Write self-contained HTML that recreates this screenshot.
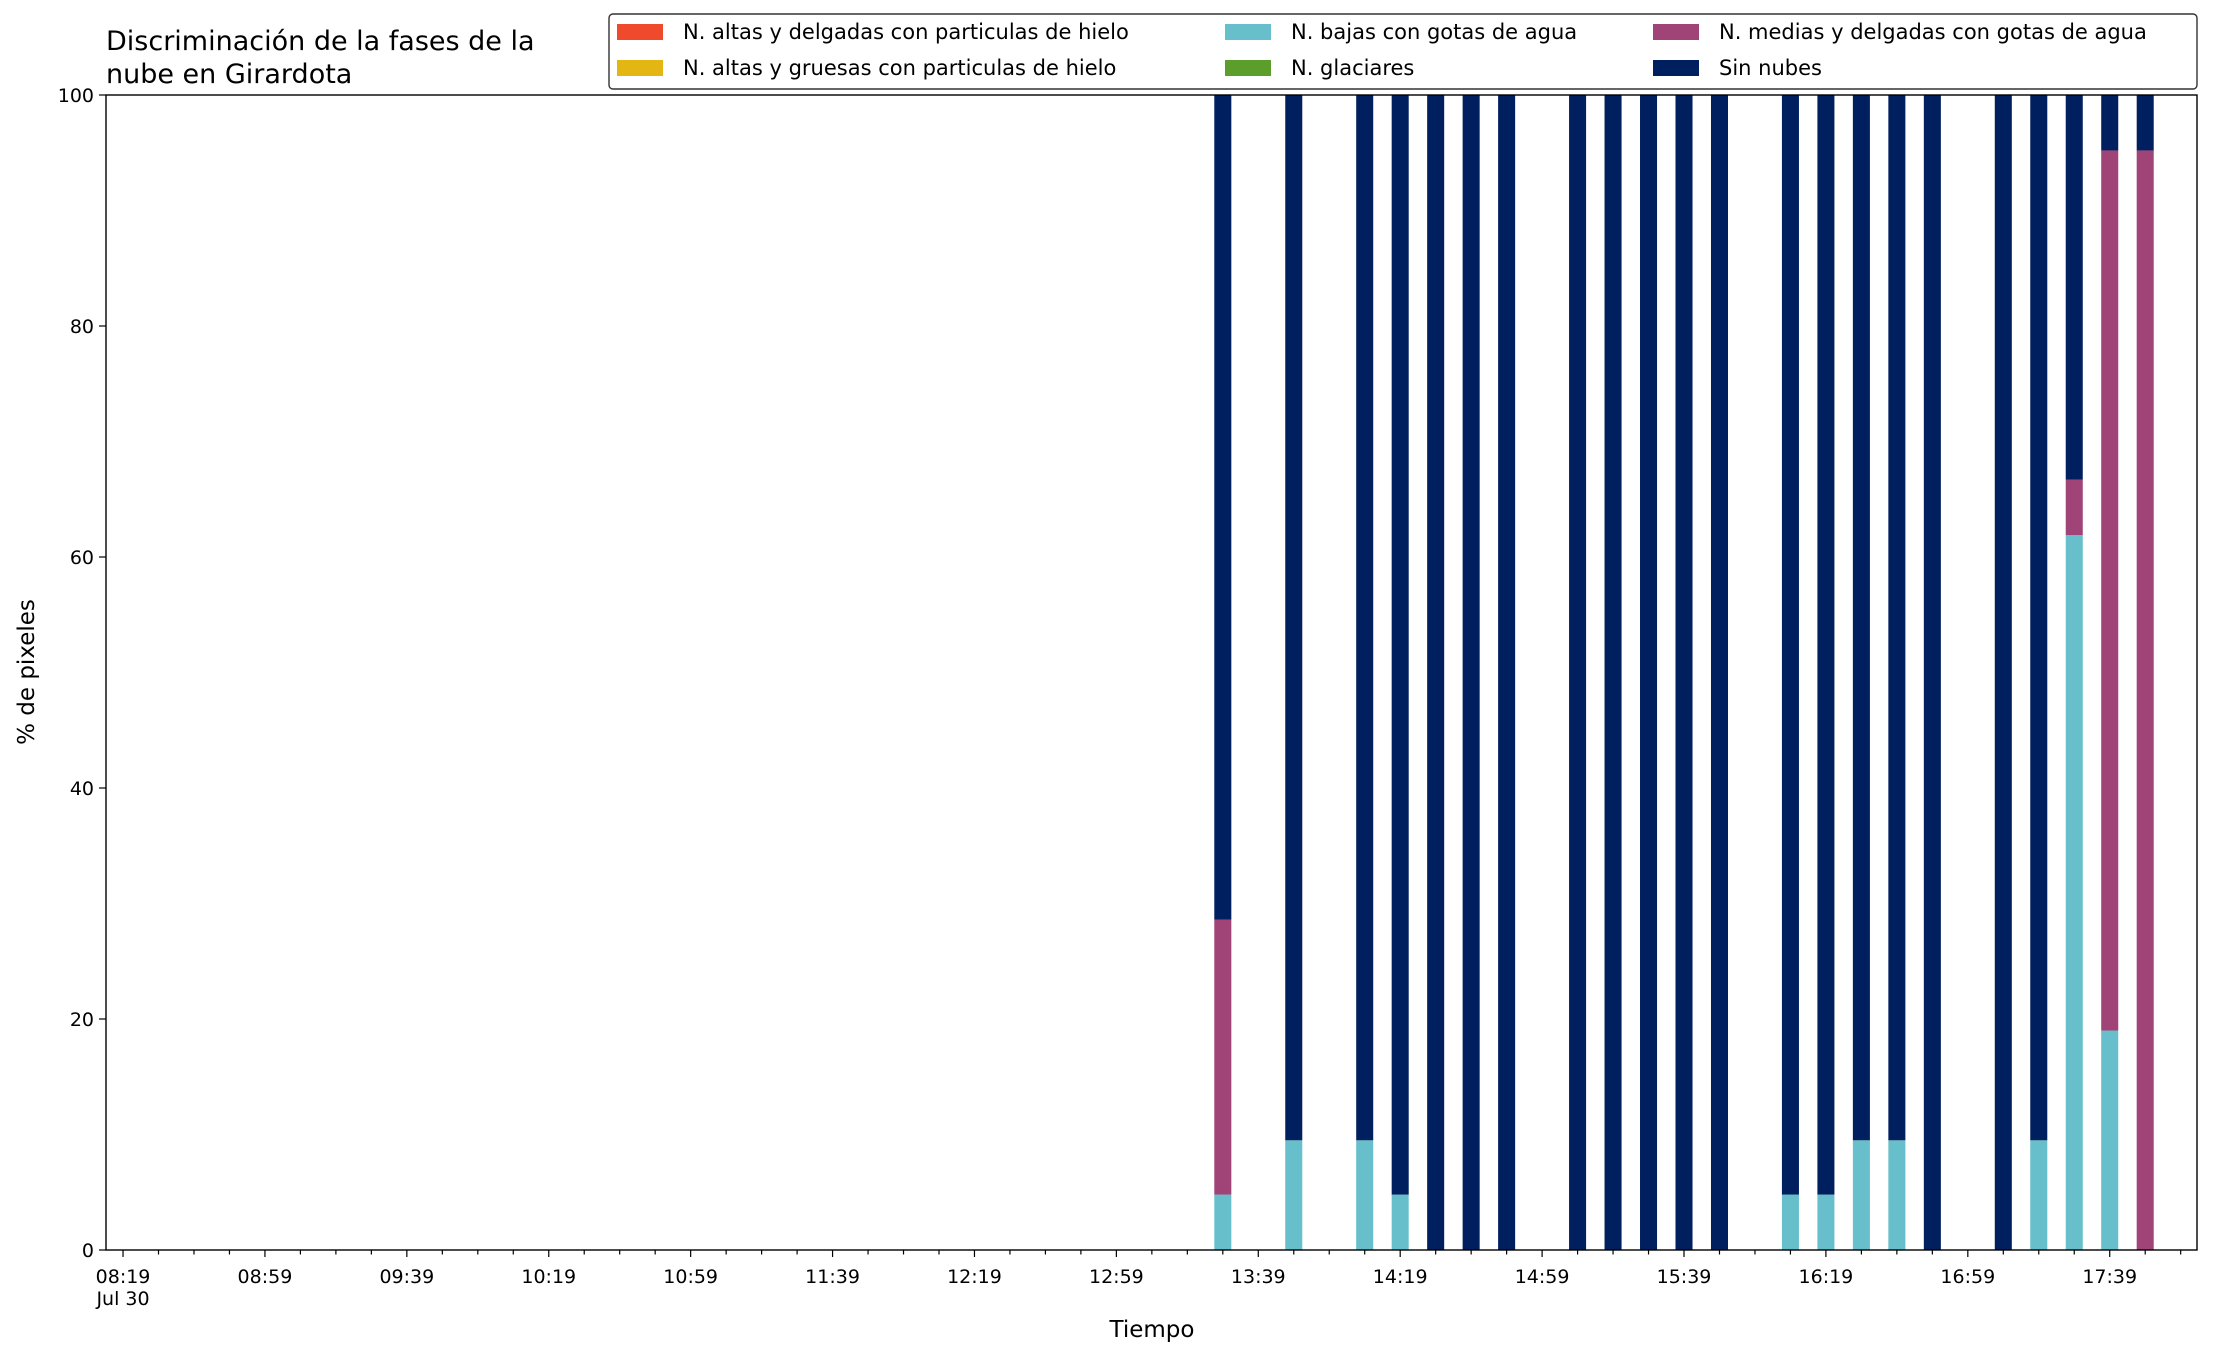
<!DOCTYPE html>
<html><head><meta charset="utf-8"><style>
body{margin:0;background:#fff;}
svg text{font-family:"DejaVu Sans","Liberation Sans",sans-serif;fill:#000;}
</style></head><body>
<svg id="chart" width="2216" height="1355" viewBox="0 0 2216 1355" xmlns="http://www.w3.org/2000/svg">
<rect width="2216" height="1355" fill="#fff"/>
<text x="106" y="50" font-size="27">Discriminación de la fases de la</text>
<text x="106" y="83" font-size="27">nube en Girardota</text>
<g id="plot"></g>
<g id="axes"></g>
<text x="1152" y="1337" font-size="23" text-anchor="middle">Tiempo</text>
<text transform="translate(34,672) rotate(-90)" font-size="23" text-anchor="middle">% de pixeles</text>
<g id="legend"></g>
</svg>
<script>
// minutes after 08:19 (Jul 30)
const times = [310,330,350,360,370,380,390,410,420,430,440,450,470,480,490,500,510,530,540,550,560,570];
const lowWater = [4.8,9.5,9.5,4.8,0,0,0,0,0,0,0,0,4.8,4.8,9.5,9.5,0,0,9.5,61.9,19.0,0];
const midWater = [23.8,0,0,0,0,0,0,0,0,0,0,0,0,0,0,0,0,0,0,4.8,76.2,95.2];
const tickMinutes = [0,40,80,120,160,200,240,280,320,360,400,440,480,520,560];
const tickLabels = ["08:19","08:59","09:39","10:19","10:59","11:39","12:19","12:59","13:39","14:19","14:59","15:39","16:19","16:59","17:39"];
const yTicks = [0,20,40,60,80,100];
const seriesNames = ["N. altas y delgadas con particulas de hielo","N. altas y gruesas con particulas de hielo","N. bajas con gotas de agua","N. glaciares","N. medias y delgadas con gotas de agua","Sin nubes"];
const seriesColors = ["#ef4a2c","#e4b614","#66bfca","#5b9e2b","#a04377","#001f5f"];

const NS="http://www.w3.org/2000/svg";
const L=106,R=2197,T=95,B=1250, xmin=-4.8, xmax=584.6;
const xs=m=>L+(m-xmin)/(xmax-xmin)*(R-L);
const ys=v=>B-v/100*(B-T);
function mk(tag,attrs,parent){const e=document.createElementNS(NS,tag);for(const k in attrs)e.setAttribute(k,attrs[k]);parent.appendChild(e);return e;}
const plot=document.getElementById('plot'), axes=document.getElementById('axes'), legend=document.getElementById('legend');
const bw=xs(4.8)-xs(0);
times.forEach((t,i)=>{
  const x=xs(t)-bw/2;
  const segs=[[0,lowWater[i],seriesColors[2],'low-water'],[lowWater[i],lowWater[i]+midWater[i],seriesColors[4],'mid-water'],[lowWater[i]+midWater[i],100,seriesColors[5],'clear-sky']];
  segs.forEach(s=>{ if(s[1]-s[0]<=0) return;
    const r=mk('rect',{x:x,y:ys(s[1]),width:bw,height:ys(s[0])-ys(s[1]),fill:s[2]},plot);
    
    
  });
});
mk('rect',{x:L,y:T,width:R-L,height:B-T,fill:'none',stroke:'#000','stroke-width':1.4},axes);
for(let m=0;m<=580;m+=10){
  const major=tickMinutes.includes(m);
  mk('line',{x1:xs(m),x2:xs(m),y1:B,y2:B+(major?7:4.5),stroke:'#000','stroke-width':1.2},axes);
}
tickMinutes.forEach((m,i)=>{
  const t=mk('text',{x:xs(m),y:1283,'font-size':19,'text-anchor':'middle'},axes);t.textContent=tickLabels[i];
  
  
});
const d=mk('text',{x:xs(0),y:1305,'font-size':19,'text-anchor':'middle'},axes);d.textContent="Jul 30";


yTicks.forEach(v=>{
  mk('line',{x1:L-7,x2:L,y1:ys(v),y2:ys(v),stroke:'#000','stroke-width':1.2},axes);
  const t=mk('text',{x:L-12,y:ys(v)+7,'font-size':19,'text-anchor':'end'},axes);t.textContent=v;
  
  
});
mk('rect',{x:609,y:14,width:1588,height:75,rx:4,fill:'#fff',stroke:'#333','stroke-width':1.4},legend);
const cols=[617,1225,1653], rows=[32,68];
seriesNames.forEach((n,i)=>{
  const c=Math.floor(i/2), r=i%2;
  const p=mk('rect',{x:cols[c],y:rows[r]-8,width:46,height:16,fill:seriesColors[i]},legend);
  
  
  const t=mk('text',{x:cols[c]+66,y:rows[r]+7,'font-size':21},legend);t.textContent=n;
  
  
});
</script>
</body></html>
